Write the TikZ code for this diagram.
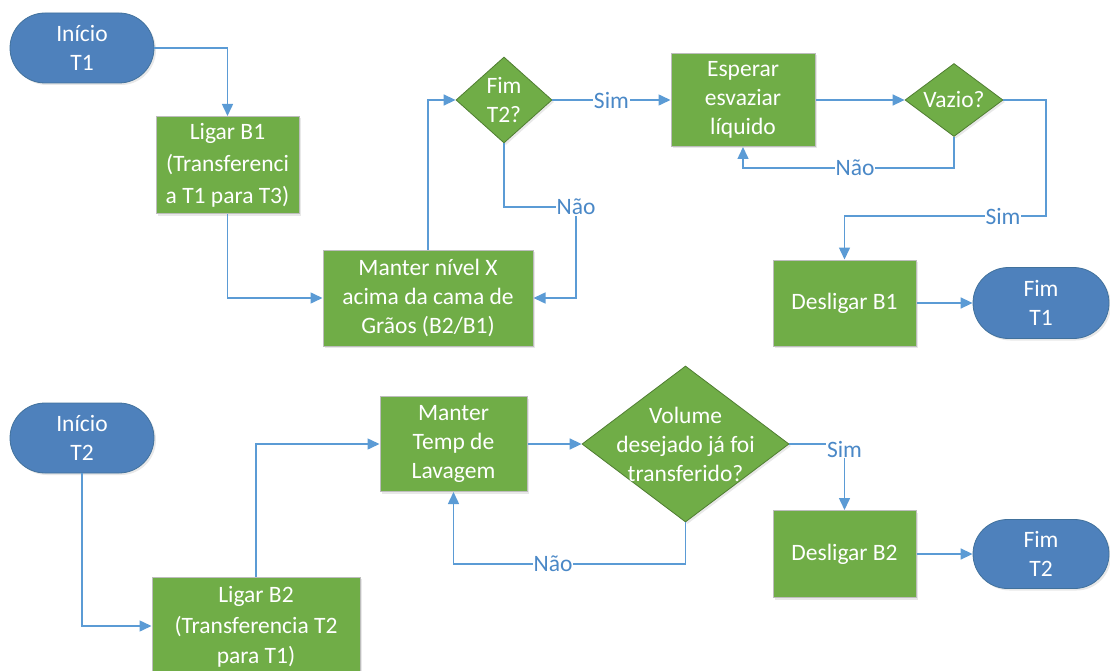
\documentclass[tikz,border=0pt]{standalone}
\usepackage{fontspec}
\setmainfont{Carlito}
\usetikzlibrary{shapes.geometric,shapes.misc,arrows.meta,shadows}

\definecolor{termblue}{HTML}{4E81BC}
\definecolor{termedge}{HTML}{41719C}
\definecolor{stepgreen}{HTML}{70AD47}
\definecolor{stepedge}{HTML}{BDBDBD}
\definecolor{decedge}{HTML}{507E32}
\definecolor{flow}{HTML}{5B9BD5}
\definecolor{flowtext}{HTML}{4A88C7}

\tikzset{
  txt/.style={text=white, font=\fontsize{23.5}{29}\selectfont, align=center},
  softshadow/.style={drop shadow={opacity=0.18, shadow xshift=2pt, shadow yshift=-2pt}},
  terminal/.style={rounded rectangle, fill=termblue, draw=termedge, line width=0.8pt,
    inner sep=0pt, txt, softshadow},
  process/.style={rectangle, fill=stepgreen, draw=stepedge, line width=1pt,
    inner sep=0pt, txt, softshadow},
  decision/.style={diamond, fill=stepgreen, draw=decedge, line width=0.8pt,
    inner sep=0pt, softshadow},
  flowline/.style={draw=flow, line width=1.5pt, -{Triangle[length=12pt,width=11pt]}},
  lbl/.style={fill=white, text=flowtext, font=\fontsize{23.5}{26}\selectfont, inner sep=1pt}
}

\begin{document}
\begin{tikzpicture}[x=1pt,y=-1pt]
\useasboundingbox (0,0) rectangle (1110,671);

% ---------- process T1 ----------
\node[terminal, minimum width=144pt, minimum height=70pt] (ib1) at (82,48) {Início\\T1};
\node[process, minimum width=143pt, minimum height=97pt,
      font=\fontsize{23.5}{32}\selectfont] (lb1) at (227.5,165) {Ligar B1\\(Transferenci\\a T1 para T3)};
\node[process, minimum width=210pt, minimum height=96pt] (mnx) at (428,298) {Manter nível X\\acima da cama de\\Grãos (B2/B1)};
\node[decision, minimum width=96pt, minimum height=86pt,
      label={[txt]center:Fim\\T2?}] (ft2q) at (504,100) {};
\node[process, minimum width=144pt, minimum height=93pt] (esp) at (743,100) {Esperar\\esvaziar\\líquido};
\node[decision, minimum width=98pt, minimum height=73pt,
      label={[txt]center:Vazio?}] (vaz) at (954,100) {};
\node[process, minimum width=143pt, minimum height=86pt] (db1) at (844.5,303) {Desligar B1};
\node[terminal, minimum width=136pt, minimum height=71pt] (ft1) at (1041,303) {Fim\\T1};

% ---------- process T2 ----------
\node[terminal, minimum width=144pt, minimum height=70pt] (ib2) at (82,438) {Início\\T2};
\node[process, minimum width=208pt, minimum height=100pt,
      font=\fontsize{23.5}{30.5}\selectfont] (lb2) at (256,627) {Ligar B2\\(Transferencia T2\\para T1)};
\node[process, minimum width=147pt, minimum height=95pt] (mtl) at (453.5,444) {Manter\\Temp de\\Lavagem};
\node[decision, minimum width=207pt, minimum height=156pt,
      label={[txt]center:Volume\\desejado já foi\\transferido?}] (vol) at (685.5,444) {};
\node[process, minimum width=143pt, minimum height=87pt] (db2) at (844.5,554) {Desligar B2};
\node[terminal, minimum width=136pt, minimum height=69pt] (ft2) at (1041,554) {Fim\\T2};

% ---------- connectors T1 ----------
\coordinate (naoA) at (576,207);
\coordinate (naoB) at (855,168);
\coordinate (rail) at (1046,216);
\coordinate (simB) at (1003,216);

\draw[flowline] (ib1.east) -| (lb1.north);
\draw[flowline] (lb1.south) |- (mnx.west);
\draw[flowline] (mnx.north) |- (ft2q.west);
\draw[flowline] (ft2q.south) |- (naoA) |- (mnx.east);
\node[lbl] at (naoA) {Não};
\draw[flowline] (ft2q.east) -- node[lbl] {Sim} (esp.west);
\draw[flowline] (esp.east) -- (vaz.west);
\draw[flowline] (vaz.south) |- (naoB) -| (esp.south);
\node[lbl] at (naoB) {Não};
\draw[flowline] (vaz.east) -| (rail) -| (db1.north);
\node[lbl] at (simB) {Sim};
\draw[flowline] (db1.east) -- (ft1.west);

% ---------- connectors T2 ----------
\coordinate (naoC) at (553,564);

\draw[flowline] (ib2.south) |- (lb2.west |- 0,626);
\draw[flowline] (lb2.north) |- (mtl.west);
\draw[flowline] (mtl.east) -- (vol.west);
\draw[flowline] (vol.east) -| (db2.north);
\node[lbl, yshift=-5pt] at (db2.north |- vol.east) {Sim};
\draw[flowline] (vol.south) |- (naoC) -| (mtl.south);
\node[lbl] at (naoC) {Não};
\draw[flowline] (db2.east) -- (ft2.west);
\end{tikzpicture}
\end{document}
